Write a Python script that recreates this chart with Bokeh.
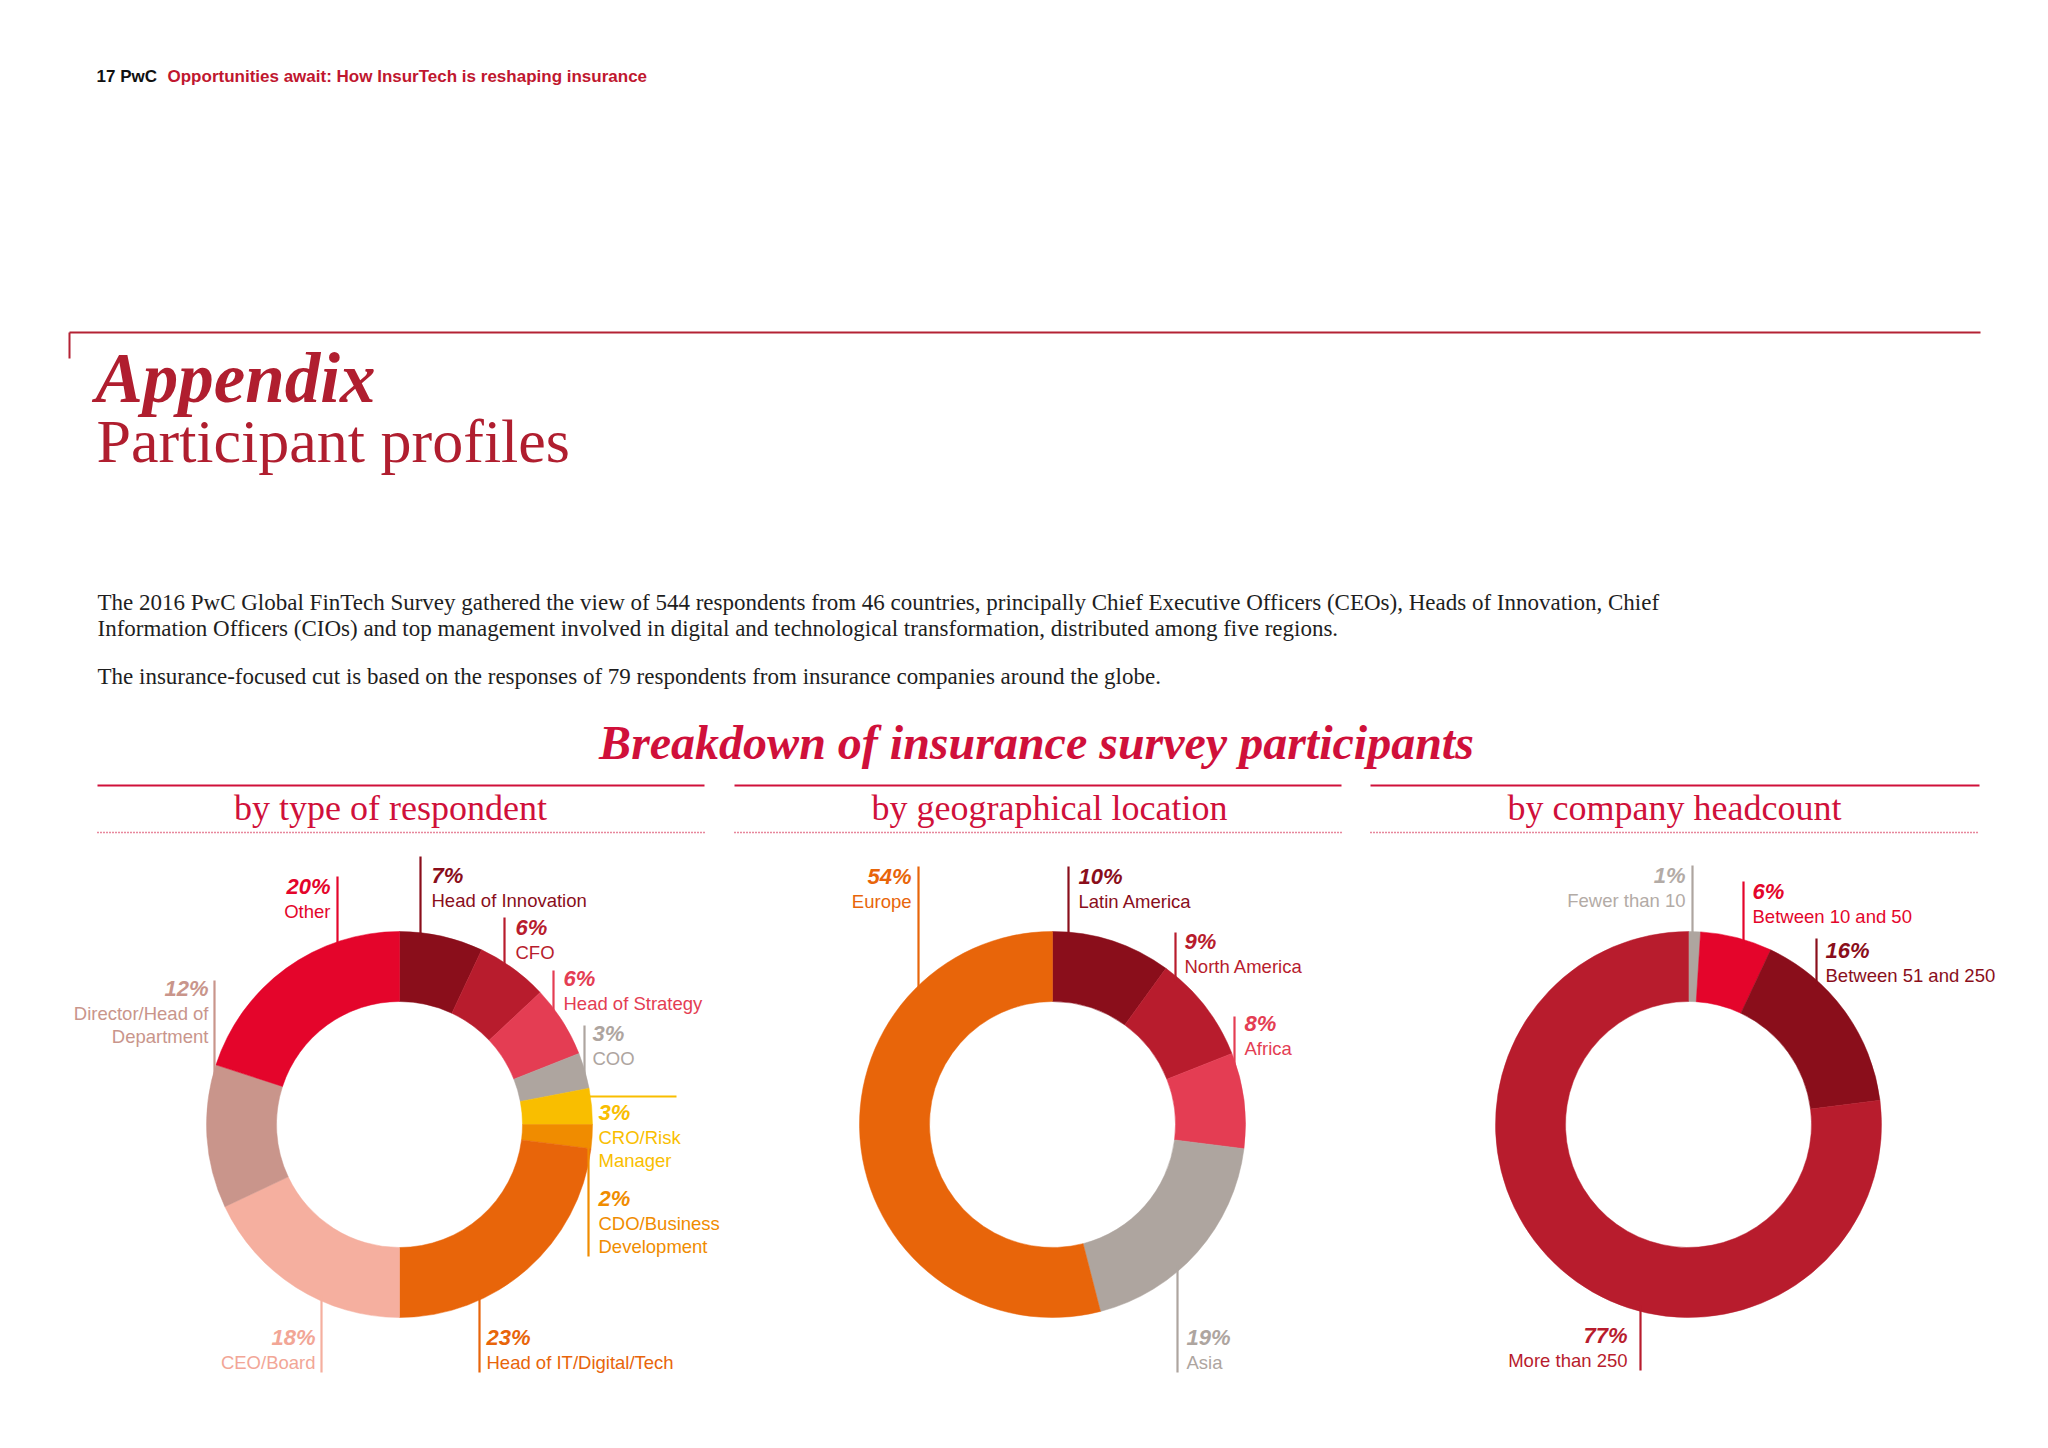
import math
from bokeh.plotting import figure
from bokeh.models import Range1d, ColumnDataSource
from bokeh.core.properties import value
from bokeh.embed import file_html
from bokeh.resources import INLINE

# ---------------- data ----------------
resp_labels = ["Head of Innovation", "CFO", "Head of Strategy", "COO", "CRO/Risk\nManager",
               "CDO/Business\nDevelopment", "Head of IT/Digital/Tech", "CEO/Board",
               "Director/Head of\nDepartment", "Other"]
resp_values = [7, 6, 6, 3, 3, 2, 23, 18, 12, 20]

geo_labels = ["Latin America", "North America", "Africa", "Asia", "Europe"]
geo_values = [10, 9, 8, 19, 54]

head_labels = ["Fewer than 10", "Between 10 and 50", "Between 51 and 250", "More than 250"]
head_values = [1, 6, 16, 77]

panel_titles = ["by type of respondent", "by geographical location", "by company headcount"]

# ---------------- styles ----------------
DARK = "#8A0E1B"; CRIM = "#B81C2D"; PINK = "#E43D53"; GRAY = "#AEA59F"
YEL = "#F9BE00"; ORG2 = "#F08C00"; ORANGE = "#E8650A"; SALMON = "#F5AF9F"
DUSTY = "#C9958B"; RED = "#E4052B"
TITLE_RED = "#D0103A"; DEEP_RED = "#B01E2F"

resp_colors = [DARK, CRIM, PINK, GRAY, YEL, ORG2, ORANGE, SALMON, DUSTY, RED]
resp_text_colors = [DARK, CRIM, PINK, GRAY, YEL, ORG2, ORANGE, "#F2A696", DUSTY, RED]
geo_colors = [DARK, CRIM, PINK, GRAY, ORANGE]
head_colors = [GRAY, RED, DARK, CRIM]
head_text_colors = ["#B3ABA6", RED, DARK, CRIM]

W, H = 2048, 1448
def Y(o):
    return H - o

CY = 1124
R_OUT, R_IN = 193, 123
centers = [(399, CY), (1052, CY), (1688, CY)]

SANS = value("Liberation Sans")
SERIF = value("Liberation Serif")

p = figure(width=2032, height=1432, x_range=Range1d(0, 2032), y_range=Range1d(16, 1448),
           output_backend="svg", toolbar_location=None, min_border=0)
p.axis.visible = False
p.grid.visible = False
p.outline_line_color = None
p.background_fill_color = "white"
p.border_fill_color = "white"


def txt(x, y, s, size, color, font=SANS, style="normal", align="left", baseline="middle"):
    p.text(x=[x], y=[Y(y)], text=[s], text_font=font, text_font_size=size,
           text_font_style=style, text_color=color, text_align=align, text_baseline=baseline)


def hline(x0, x1, y, color, width=2.0, dash="solid"):
    p.line([x0, x1], [Y(y), Y(y)], line_color=color, line_width=width, line_dash=dash)


def vline(x, y0, y1, color, width=2.2):
    p.line([x, x], [Y(y0), Y(y1)], line_color=color, line_width=width)


# ---------------- header ----------------
txt(96, 76, "17  PwC", "17px", "#111111", style="bold")
txt(167, 76, "Opportunities await: How InsurTech is reshaping insurance", "17px", "#C0172F", style="bold")

hline(69, 1980, 332, "#B42234", 2)
vline(69, 332, 358, "#B42234", 2)

txt(95, 377, "Appendix", "71px", DEEP_RED, font=SERIF, style="bold italic", baseline="alphabetic")
txt(96, 440, "Participant profiles", "62px", DEEP_RED, font=SERIF, baseline="alphabetic")

body = ["The 2016 PwC Global FinTech Survey gathered the view of 544 respondents from 46 countries, principally Chief Executive Officers (CEOs), Heads of Innovation, Chief",
        "Information Officers (CIOs) and top management involved in digital and technological transformation, distributed among five regions.",
        "The insurance-focused cut is based on the responses of 79 respondents from insurance companies around the globe."]
for s, yy in zip(body, [602, 628, 676]):
    txt(97, yy, s, "23px", "#1E1E1E", font=SERIF)

txt(1036, 742, "Breakdown of insurance survey participants", "48px", TITLE_RED, font=SERIF,
    style="bold italic", align="center")

panel_x = [(97, 704), (734, 1341), (1370, 1979)]
title_cx = [390, 1049, 1674]
for (x0, x1), t, tcx in zip(panel_x, panel_titles, title_cx):
    hline(x0, x1, 785, TITLE_RED, 2)
    hline(x0, x1, 832, TITLE_RED, 1.6, "1 2")
    txt(tcx, 807, t, "36px", TITLE_RED, font=SERIF, align="center")


# ---------------- donuts ----------------
def donut(center, values, colors):
    cx, cy = center
    total = float(sum(values))
    starts, ends = [], []
    acc = 0.0
    for v in values:
        starts.append(math.pi / 2 - 2 * math.pi * acc / total)
        acc += v
        ends.append(math.pi / 2 - 2 * math.pi * acc / total)
    src = ColumnDataSource(dict(x=[cx] * len(values), y=[Y(cy)] * len(values),
                                start=starts, end=ends, color=colors))
    p.annular_wedge(x="x", y="y", inner_radius=R_IN, outer_radius=R_OUT,
                    start_angle="start", end_angle="end", direction="clock",
                    fill_color="color", line_color="color", line_width=0.5, source=src)


def ring_y(center, x, top=True):
    cx, cy = center
    dx = min(abs(x - cx), R_OUT - 1)
    d = math.sqrt(R_OUT ** 2 - dx ** 2)
    return cy - d + 6 if top else cy + d - 6


def label(center, values, labels, tcolors, lcolors, layout):
    for v, lab, tc, lc, lay in zip(values, labels, tcolors, lcolors, layout):
        lx, ltop, lbot, tx, py, align = lay
        if ltop == "ring":
            ltop = ring_y(center, lx, top=False)
        if lbot == "ring":
            lbot = ring_y(center, lx, top=True)
        if lx is not None:
            vline(lx, ltop, lbot, lc)
        txt(tx, py, f"{v}%", "22px", tc, style="bold italic", align=align)
        for i, line in enumerate(lab.split("\n")):
            txt(tx, py + 24.5 + 23.5 * i, line, "18.5px", tc, align=align)


# layout: (line_x, line_top, line_bottom, text_x, pct_y, align)
resp_layout = [
    (420, 856, "ring", 431, 875, "left"),
    (504, 917, "ring", 515, 927, "left"),
    (553, 970, "ring", 563, 978, "left"),
    (584, 1025, "ring", 592, 1033, "left"),
    (None, 0, 0, 598, 1112, "left"),
    (588, 1140, 1256, 598, 1198, "left"),
    (479, "ring", 1372, 486, 1337, "left"),
    (321, "ring", 1372, 315, 1337, "right"),
    (214, 980, "ring", 208, 988, "right"),
    (337, 876, "ring", 330, 886, "right"),
]
geo_layout = [
    (1068, 866, "ring", 1078, 876, "left"),
    (1175, 932, "ring", 1184, 941, "left"),
    (1234, 1016, "ring", 1244, 1023, "left"),
    (1177, "ring", 1372, 1186, 1337, "left"),
    (918, 866, "ring", 911, 876, "right"),
]
head_layout = [
    (1692, 865, "ring", 1685, 875, "right"),
    (1743, 881, "ring", 1752, 891, "left"),
    (1816, 938, "ring", 1825, 950, "left"),
    (1640, "ring", 1370, 1627, 1335, "right"),
]

donut(centers[0], resp_values, resp_colors)
donut(centers[1], geo_values, geo_colors)
donut(centers[2], head_values, head_colors)

# CRO/Risk Manager horizontal leader
hline(588, 676, 1096, YEL, 2.2)

label(centers[0], resp_values, resp_labels, resp_text_colors, resp_colors, resp_layout)
label(centers[1], geo_values, geo_labels, geo_colors, geo_colors, geo_layout)
label(centers[2], head_values, head_labels, head_text_colors, head_colors, head_layout)

open("out.html", "w").write(file_html(p, INLINE))
